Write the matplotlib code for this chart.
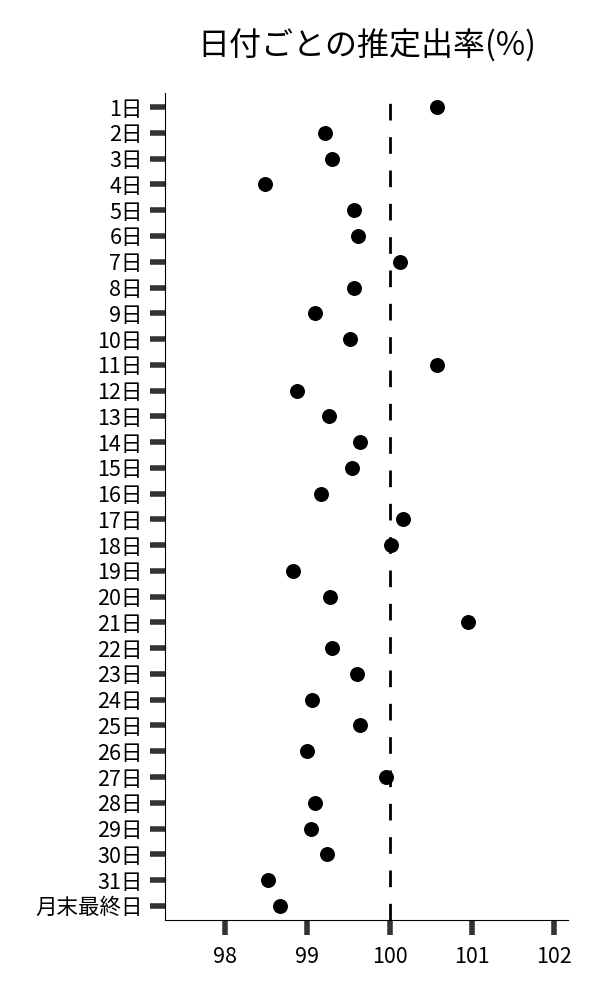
import matplotlib
matplotlib.use("Agg")
import matplotlib.pyplot as plt
import numpy as np

plt.rcParams['font.family'] = ['Noto Sans CJK JP', 'DejaVu Sans']

# days of month and estimated rate (%)
days = [f"{i}日" for i in range(1, 32)] + ["月末最終日"]
rates = [100.58, 99.21, 99.30, 98.48, 99.57, 99.61, 100.13, 99.57, 99.09, 99.52,
         100.58, 98.87, 99.26, 99.64, 99.54, 99.16, 100.16, 100.02, 98.83, 99.27,
         100.95, 99.30, 99.60, 99.06, 99.64, 98.99, 99.96, 99.09, 99.05, 99.24,
         98.52, 98.67]
xticks = [98, 99, 100, 101, 102]

fig = plt.figure(figsize=(6, 10), dpi=100)
ax = fig.add_axes([0.275, 0.08, 0.672, 0.827])

ypos = np.arange(len(days))
ax.scatter(rates, ypos, color="black", s=95, zorder=3)
ax.axvline(100, color="black", lw=2, linestyle=(0, (6, 6)), zorder=2)

ax.set_yticks(ypos)
ax.set_yticklabels(days)
ax.set_ylim(len(days) - 0.45, -0.55)
ax.set_xticks(xticks)
ax.set_xlim(97.27, 102.17)

ax.spines['top'].set_visible(False)
ax.spines['right'].set_visible(False)
ax.tick_params(axis='both', direction='out', length=11, width=4,
               color='#333333', labelsize=15.5, pad=5)
ax.tick_params(axis='x', pad=8)

ax.set_title("日付ごとの推定出率(%)", fontsize=23, pad=27)

fig.savefig("out.png", dpi=100)
